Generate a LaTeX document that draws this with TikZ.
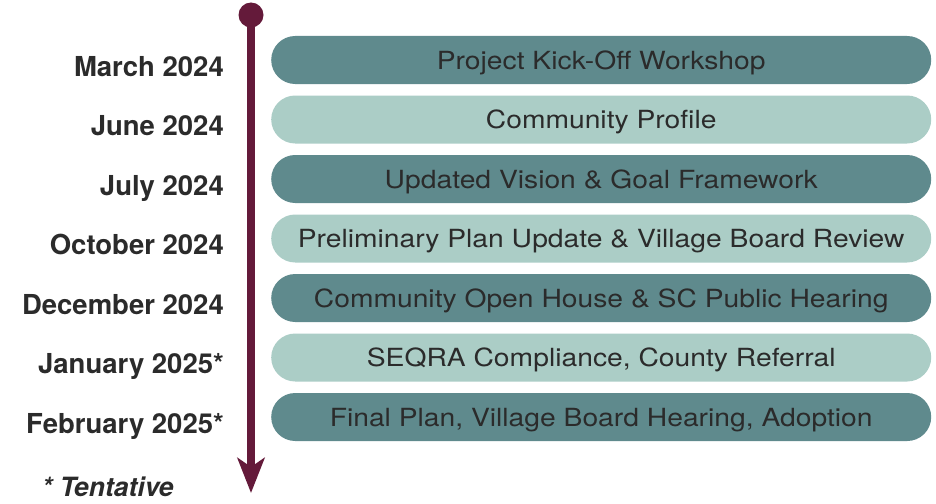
\documentclass[tikz,border=0pt]{standalone}
\usepackage{fontspec}
\setmainfont{TeX Gyre Heros}
\newfontfamily\barfont[FakeStretch=1.13]{TeX Gyre Heros}
\usetikzlibrary{arrows.meta}
\definecolor{darkbar}{HTML}{5F8A8D}
\definecolor{lightbar}{HTML}{ABCDC6}
\definecolor{maroon}{HTML}{641A3A}
\definecolor{txt}{HTML}{2B2B2B}
\tikzset{
  barbase/.style={minimum width=660pt, minimum height=48pt, rounded corners=24pt, inner sep=0pt, anchor=west},
  darkb/.style={barbase, fill=darkbar},
  lightb/.style={barbase, fill=lightbar},
  bartext/.style={font=\barfont\fontsize{25}{27}\selectfont, text=txt, anchor=base, inner sep=0pt},
  datelbl/.style={font=\bfseries\fontsize{27.5}{30}\selectfont, text=txt, anchor=base east, inner sep=0pt},
}
\begin{document}
\begin{tikzpicture}[x=1pt,y=-1pt]
\useasboundingbox (0,0) rectangle (936,503);
\foreach \i/\st/\lab/\date in {0/darkb/Project Kick-Off Workshop/March 2024,
  1/lightb/Community Profile/June 2024,
  2/darkb/Updated Vision \& Goal Framework/July 2024,
  3/lightb/Preliminary Plan Update \& Village Board Review/October 2024,
  4/darkb/Community Open House \& SC Public Hearing/December 2024,
  5/lightb/{SEQRA Compliance, County Referral}/January 2025*,
  6/darkb/{Final Plan, Village Board Hearing, Adoption}/February 2025*}{
  \node[\st] (bar\i) at (271,{60+59.5*\i}) {};
  \node[bartext] (t\i) at ([yshift=-9pt]bar\i.center) {\lab};
  \node[datelbl] (d\i) at (224,{76+59.5*\i}) {\date};
}
\node[circle, fill=maroon, minimum size=25pt, inner sep=0pt] (dot) at (251,15) {};
\coordinate (tip) at (251,493);
\draw[maroon, line width=8pt, -{Stealth[length=35pt,width=27pt,inset=9pt]}] (dot.center) -- (tip);
\node[font=\bfseries\itshape\fontsize{26.5}{29}\selectfont, text=txt, anchor=base west, inner sep=0pt] (tent) at (42,496) {* Tentative};
\end{tikzpicture}
\end{document}
